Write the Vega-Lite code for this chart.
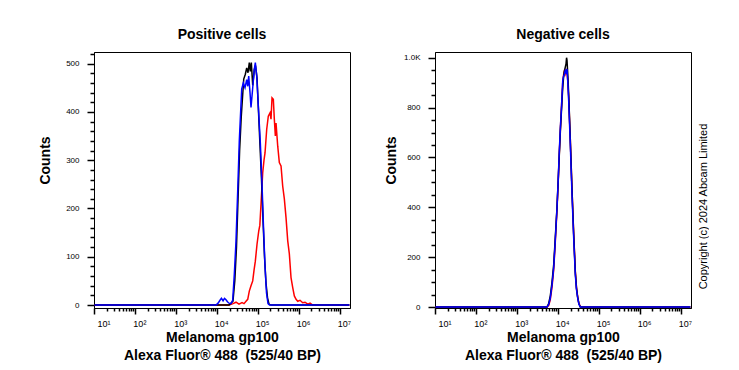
{
 "$schema": "https://vega.github.io/schema/vega-lite/v6.json",
 "background": "white",
 "padding": {"left": 37, "top": 27, "right": 0, "bottom": 0},
 "config": {
  "font": "Liberation Sans",
  "view": {"stroke": "black", "strokeWidth": 1},
  "title": {"fontSize": 14, "fontWeight": "bold", "font": "Liberation Sans", "color": "black", "offset": 10},
  "concat": {"spacing": 30}
 },
 "datasets": {
  "pos": [
   {"sample":"Anti-gp100","intensity":10,"count":0},{"sample":"Anti-gp100","intensity":19800,"count":0},{"sample":"Anti-gp100","intensity":24300,"count":3},{"sample":"Anti-gp100","intensity":28800,"count":6},{"sample":"Anti-gp100","intensity":34100,"count":2},{"sample":"Anti-gp100","intensity":40400,"count":5},{"sample":"Anti-gp100","intensity":45200,"count":3},{"sample":"Anti-gp100","intensity":50600,"count":8},{"sample":"Anti-gp100","intensity":55700,"count":12},{"sample":"Anti-gp100","intensity":60900,"count":29},{"sample":"Anti-gp100","intensity":67000,"count":40},{"sample":"Anti-gp100","intensity":73800,"count":50},{"sample":"Anti-gp100","intensity":79400,"count":72},{"sample":"Anti-gp100","intensity":85500,"count":91},{"sample":"Anti-gp100","intensity":94000,"count":126},{"sample":"Anti-gp100","intensity":103500,"count":153},{"sample":"Anti-gp100","intensity":110100,"count":165},{"sample":"Anti-gp100","intensity":117700,"count":209},{"sample":"Anti-gp100","intensity":129500,"count":274},{"sample":"Anti-gp100","intensity":139300,"count":300},{"sample":"Anti-gp100","intensity":147400,"count":315},{"sample":"Anti-gp100","intensity":162200,"count":364},{"sample":"Anti-gp100","intensity":177400,"count":391},{"sample":"Anti-gp100","intensity":195300,"count":398},{"sample":"Anti-gp100","intensity":206600,"count":385},{"sample":"Anti-gp100","intensity":218600,"count":429},{"sample":"Anti-gp100","intensity":235400,"count":426},{"sample":"Anti-gp100","intensity":249000,"count":385},{"sample":"Anti-gp100","intensity":263600,"count":350},{"sample":"Anti-gp100","intensity":274000,"count":377},{"sample":"Anti-gp100","intensity":301500,"count":329},{"sample":"Anti-gp100","intensity":329900,"count":295},{"sample":"Anti-gp100","intensity":363000,"count":288},{"sample":"Anti-gp100","intensity":399100,"count":246},{"sample":"Anti-gp100","intensity":437300,"count":220},{"sample":"Anti-gp100","intensity":480800,"count":181},{"sample":"Anti-gp100","intensity":529300,"count":133},{"sample":"Anti-gp100","intensity":579400,"count":106},{"sample":"Anti-gp100","intensity":636800,"count":57},{"sample":"Anti-gp100","intensity":701200,"count":36},{"sample":"Anti-gp100","intensity":767400,"count":19},{"sample":"Anti-gp100","intensity":845400,"count":12},{"sample":"Anti-gp100","intensity":929000,"count":8},{"sample":"Anti-gp100","intensity":1057000,"count":10},{"sample":"Anti-gp100","intensity":1230000,"count":5},{"sample":"Anti-gp100","intensity":1402000,"count":6},{"sample":"Anti-gp100","intensity":1633000,"count":2},{"sample":"Anti-gp100","intensity":1858000,"count":4},{"sample":"Anti-gp100","intensity":2163000,"count":0},{"sample":"Anti-gp100","intensity":17000000,"count":0},
   {"sample":"Unlabelled control","intensity":10,"count":0},{"sample":"Unlabelled control","intensity":19400,"count":0},{"sample":"Unlabelled control","intensity":21700,"count":4},{"sample":"Unlabelled control","intensity":24300,"count":8},{"sample":"Unlabelled control","intensity":26900,"count":50},{"sample":"Unlabelled control","intensity":29600,"count":120},{"sample":"Unlabelled control","intensity":32300,"count":220},{"sample":"Unlabelled control","intensity":35300,"count":320},{"sample":"Unlabelled control","intensity":38700,"count":390},{"sample":"Unlabelled control","intensity":44500,"count":468},{"sample":"Unlabelled control","intensity":48700,"count":478},{"sample":"Unlabelled control","intensity":52600,"count":491},{"sample":"Unlabelled control","intensity":56600,"count":481},{"sample":"Unlabelled control","intensity":60900,"count":502},{"sample":"Unlabelled control","intensity":64500,"count":484},{"sample":"Unlabelled control","intensity":68200,"count":502},{"sample":"Unlabelled control","intensity":73800,"count":455},{"sample":"Unlabelled control","intensity":80700,"count":488},{"sample":"Unlabelled control","intensity":86300,"count":496},{"sample":"Unlabelled control","intensity":94000,"count":470},{"sample":"Unlabelled control","intensity":102300,"count":400},{"sample":"Unlabelled control","intensity":111200,"count":330},{"sample":"Unlabelled control","intensity":121000,"count":260},{"sample":"Unlabelled control","intensity":131800,"count":175},{"sample":"Unlabelled control","intensity":143300,"count":100},{"sample":"Unlabelled control","intensity":156000,"count":45},{"sample":"Unlabelled control","intensity":169800,"count":15},{"sample":"Unlabelled control","intensity":184600,"count":2},{"sample":"Unlabelled control","intensity":206600,"count":0},{"sample":"Unlabelled control","intensity":17000000,"count":0},
   {"sample":"Isotype control","intensity":10,"count":0},{"sample":"Isotype control","intensity":9350,"count":0},{"sample":"Isotype control","intensity":10500,"count":4},{"sample":"Isotype control","intensity":11700,"count":10},{"sample":"Isotype control","intensity":12700,"count":14},{"sample":"Isotype control","intensity":13900,"count":9},{"sample":"Isotype control","intensity":15100,"count":14},{"sample":"Isotype control","intensity":16400,"count":11},{"sample":"Isotype control","intensity":17800,"count":7},{"sample":"Isotype control","intensity":19400,"count":4},{"sample":"Isotype control","intensity":21700,"count":3},{"sample":"Isotype control","intensity":23900,"count":10},{"sample":"Isotype control","intensity":26200,"count":64},{"sample":"Isotype control","intensity":28800,"count":132},{"sample":"Isotype control","intensity":31700,"count":236},{"sample":"Isotype control","intensity":34700,"count":340},{"sample":"Isotype control","intensity":39700,"count":447},{"sample":"Isotype control","intensity":43500,"count":460},{"sample":"Isotype control","intensity":47800,"count":450},{"sample":"Isotype control","intensity":52600,"count":467},{"sample":"Isotype control","intensity":55700,"count":453},{"sample":"Isotype control","intensity":58900,"count":474},{"sample":"Isotype control","intensity":63400,"count":440},{"sample":"Isotype control","intensity":67000,"count":409},{"sample":"Isotype control","intensity":73800,"count":450},{"sample":"Isotype control","intensity":80700,"count":488},{"sample":"Isotype control","intensity":85500,"count":502},{"sample":"Isotype control","intensity":92500,"count":474},{"sample":"Isotype control","intensity":101200,"count":412},{"sample":"Isotype control","intensity":113200,"count":336},{"sample":"Isotype control","intensity":124500,"count":250},{"sample":"Isotype control","intensity":135500,"count":160},{"sample":"Isotype control","intensity":147400,"count":80},{"sample":"Isotype control","intensity":160300,"count":25},{"sample":"Isotype control","intensity":174600,"count":3},{"sample":"Isotype control","intensity":190000,"count":0},{"sample":"Isotype control","intensity":17000000,"count":0}
  ],
  "neg": [
   {"sample":"Anti-gp100","intensity":10,"count":0},{"sample":"Anti-gp100","intensity":5320,"count":0},{"sample":"Anti-gp100","intensity":5850,"count":6},{"sample":"Anti-gp100","intensity":6410,"count":30},{"sample":"Anti-gp100","intensity":7060,"count":80},{"sample":"Anti-gp100","intensity":7760,"count":150},{"sample":"Anti-gp100","intensity":8500,"count":262},{"sample":"Anti-gp100","intensity":9350,"count":390},{"sample":"Anti-gp100","intensity":10000,"count":500},{"sample":"Anti-gp100","intensity":10640,"count":615},{"sample":"Anti-gp100","intensity":11300,"count":715},{"sample":"Anti-gp100","intensity":11910,"count":790},{"sample":"Anti-gp100","intensity":12890,"count":900},{"sample":"Anti-gp100","intensity":13500,"count":930},{"sample":"Anti-gp100","intensity":14100,"count":945},{"sample":"Anti-gp100","intensity":14800,"count":935},{"sample":"Anti-gp100","intensity":15520,"count":950},{"sample":"Anti-gp100","intensity":16410,"count":940},{"sample":"Anti-gp100","intensity":17200,"count":905},{"sample":"Anti-gp100","intensity":18060,"count":840},{"sample":"Anti-gp100","intensity":19770,"count":670},{"sample":"Anti-gp100","intensity":21740,"count":470},{"sample":"Anti-gp100","intensity":23910,"count":295},{"sample":"Anti-gp100","intensity":26180,"count":145},{"sample":"Anti-gp100","intensity":28000,"count":78},{"sample":"Anti-gp100","intensity":29980,"count":40},{"sample":"Anti-gp100","intensity":32000,"count":15},{"sample":"Anti-gp100","intensity":34700,"count":2},{"sample":"Anti-gp100","intensity":37000,"count":0},{"sample":"Anti-gp100","intensity":17000000,"count":0},
   {"sample":"Unlabelled control","intensity":10,"count":0},{"sample":"Unlabelled control","intensity":5320,"count":0},{"sample":"Unlabelled control","intensity":5850,"count":14},{"sample":"Unlabelled control","intensity":6410,"count":45},{"sample":"Unlabelled control","intensity":7060,"count":100},{"sample":"Unlabelled control","intensity":7760,"count":170},{"sample":"Unlabelled control","intensity":8500,"count":280},{"sample":"Unlabelled control","intensity":9350,"count":400},{"sample":"Unlabelled control","intensity":10000,"count":505},{"sample":"Unlabelled control","intensity":10640,"count":610},{"sample":"Unlabelled control","intensity":11300,"count":705},{"sample":"Unlabelled control","intensity":11910,"count":775},{"sample":"Unlabelled control","intensity":12890,"count":880},{"sample":"Unlabelled control","intensity":13500,"count":920},{"sample":"Unlabelled control","intensity":14100,"count":945},{"sample":"Unlabelled control","intensity":14800,"count":960},{"sample":"Unlabelled control","intensity":15520,"count":975},{"sample":"Unlabelled control","intensity":16000,"count":1000},{"sample":"Unlabelled control","intensity":16410,"count":990},{"sample":"Unlabelled control","intensity":17200,"count":930},{"sample":"Unlabelled control","intensity":18060,"count":850},{"sample":"Unlabelled control","intensity":19770,"count":670},{"sample":"Unlabelled control","intensity":21740,"count":470},{"sample":"Unlabelled control","intensity":23910,"count":290},{"sample":"Unlabelled control","intensity":26180,"count":140},{"sample":"Unlabelled control","intensity":28000,"count":75},{"sample":"Unlabelled control","intensity":29980,"count":38},{"sample":"Unlabelled control","intensity":32000,"count":14},{"sample":"Unlabelled control","intensity":34700,"count":0},{"sample":"Unlabelled control","intensity":17000000,"count":0},
   {"sample":"Isotype control","intensity":10,"count":0},{"sample":"Isotype control","intensity":5320,"count":0},{"sample":"Isotype control","intensity":5850,"count":10},{"sample":"Isotype control","intensity":6410,"count":36},{"sample":"Isotype control","intensity":7060,"count":90},{"sample":"Isotype control","intensity":7760,"count":157},{"sample":"Isotype control","intensity":8500,"count":270},{"sample":"Isotype control","intensity":9350,"count":398},{"sample":"Isotype control","intensity":10000,"count":510},{"sample":"Isotype control","intensity":10640,"count":625},{"sample":"Isotype control","intensity":11300,"count":720},{"sample":"Isotype control","intensity":11910,"count":786},{"sample":"Isotype control","intensity":12890,"count":906},{"sample":"Isotype control","intensity":13500,"count":925},{"sample":"Isotype control","intensity":14100,"count":933},{"sample":"Isotype control","intensity":14800,"count":948},{"sample":"Isotype control","intensity":15520,"count":940},{"sample":"Isotype control","intensity":16410,"count":955},{"sample":"Isotype control","intensity":17200,"count":900},{"sample":"Isotype control","intensity":18060,"count":826},{"sample":"Isotype control","intensity":19770,"count":652},{"sample":"Isotype control","intensity":21740,"count":451},{"sample":"Isotype control","intensity":23910,"count":277},{"sample":"Isotype control","intensity":26180,"count":130},{"sample":"Isotype control","intensity":28000,"count":70},{"sample":"Isotype control","intensity":29980,"count":36},{"sample":"Isotype control","intensity":32000,"count":12},{"sample":"Isotype control","intensity":34700,"count":0},{"sample":"Isotype control","intensity":17000000,"count":0}
  ]
 },
 "hconcat": [
  {
   "title": "Positive cells",
   "width": 256, "height": 256,
   "data": {"name": "pos"},
   "layer": [
    {
     "encoding": {
      "x": {"field": "intensity", "type": "quantitative",
       "scale": {"type": "log", "domain": [9.75, 17600000], "nice": false},
       "axis": {
        "title": ["Melanoma gp100", "Alexa Fluor® 488 \u00a0(525/40 BP)"],
        "orient": "bottom", "grid": false, "tickColor": "black", "tickWidth": 1.5, "tickSize": 6, "domainColor": "black", "labelColor": "black", "titleColor": "black",
        "values": [10,100,1000,10000,100000,1000000,10000000],
        "labelExpr": "'10' + ['⁰','¹','²','³','⁴','⁵','⁶','⁷'][round(log(datum.value)/LN10)]",
        "labelFlush": false, "labelFontSize": 9, "labelFont": "Liberation Sans",
        "labelOffset": {"condition": {"test": "datum.value < 11", "value": 9}, "value": 4},
        "labelPadding": 5,
        "titleFont": "Liberation Sans", "titleFontSize": 14, "titleFontWeight": "bold", "titleBaseline": "alphabetic", "titleY": 33, "titleLineHeight": 18, "titleAlign": "center", "titleX": 128
       }},
      "y": {"field": "count", "type": "quantitative",
       "scale": {"domain": [-6, 524], "nice": false, "zero": false},
       "axis": {
        "title": "Counts", "orient": "left", "grid": false, "tickColor": "black", "tickWidth": 1.5, "tickSize": 7, "domainColor": "black", "labelColor": "black", "titleColor": "black",
        "values": [0,100,200,300,400,500],
        "labelFontSize": 8, "labelFont": "Liberation Sans", "labelPadding": 8,
        "titleFont": "Liberation Sans", "titleFontSize": 14, "titleFontWeight": "bold", "titleX": -49, "titleY": 108, "titleAngle": 270, "titleAlign": "center", "titleBaseline": "middle"
       }},
      "color": {"field": "sample", "type": "nominal",
       "scale": {"domain": ["Anti-gp100", "Unlabelled control", "Isotype control"], "range": ["#ff0000", "#000000", "#0000ff"]},
       "legend": null}
     },
     "layer": [
      {"transform": [{"filter": "datum.sample === 'Anti-gp100'"}], "mark": {"type": "line", "strokeWidth": 1.5}},
      {"transform": [{"filter": "datum.sample === 'Unlabelled control'"}], "mark": {"type": "line", "strokeWidth": 1.5}},
      {"transform": [{"filter": "datum.sample === 'Isotype control'"}], "mark": {"type": "line", "strokeWidth": 1.5}}
     ]
    },
    {
     "mark": {"type": "line", "strokeOpacity": 0},
     "encoding": {
      "x": {"field": "intensity", "type": "quantitative",
       "axis": {"orient": "bottom", "grid": false, "title": null, "labels": false, "domain": false, "tickColor": "black", "tickWidth": 1.5, "tickSize": 3,
        "values": [20,30,40,50,60,70,80,90,200,300,400,500,600,700,800,900,2000,3000,4000,5000,6000,7000,8000,9000,20000,30000,40000,50000,60000,70000,80000,90000,200000,300000,400000,500000,600000,700000,800000,900000,2000000,3000000,4000000,5000000,6000000,7000000,8000000,9000000]}},
      "y": {"field": "count", "type": "quantitative",
       "axis": {"orient": "left", "grid": false, "title": null, "labels": false, "domain": false, "tickColor": "black", "tickWidth": 1.5, "tickSize": 4,
        "values": [20,40,60,80,120,140,160,180,220,240,260,280,320,340,360,380,420,440,460,480,520]}}
     }
    }
   ],
   "resolve": {"axis": {"x": "independent", "y": "independent"}}
  },
  {
   "title": "Negative cells",
   "width": 256, "height": 256,
   "data": {"name": "neg"},
   "layer": [
    {
     "encoding": {
      "x": {"field": "intensity", "type": "quantitative",
       "scale": {"type": "log", "domain": [9.75, 17600000], "nice": false},
       "axis": {
        "title": ["Melanoma gp100", "Alexa Fluor® 488 \u00a0(525/40 BP)"],
        "orient": "bottom", "grid": false, "tickColor": "black", "tickWidth": 1.5, "tickSize": 6, "domainColor": "black", "labelColor": "black", "titleColor": "black",
        "values": [10,100,1000,10000,100000,1000000,10000000],
        "labelExpr": "'10' + ['⁰','¹','²','³','⁴','⁵','⁶','⁷'][round(log(datum.value)/LN10)]",
        "labelFlush": false, "labelFontSize": 9, "labelFont": "Liberation Sans",
        "labelOffset": {"condition": {"test": "datum.value < 11", "value": 9}, "value": 4},
        "labelPadding": 5,
        "titleFont": "Liberation Sans", "titleFontSize": 14, "titleFontWeight": "bold", "titleBaseline": "alphabetic", "titleY": 33, "titleLineHeight": 18, "titleAlign": "center", "titleX": 128
       }},
      "y": {"field": "count", "type": "quantitative",
       "scale": {"domain": [-4, 1023], "nice": false, "zero": false},
       "axis": {
        "title": "Counts", "orient": "left", "grid": false, "tickColor": "black", "tickWidth": 1.5, "tickSize": 7, "domainColor": "black", "labelColor": "black", "titleColor": "black",
        "values": [0,200,400,600,800,1000],
        "labelExpr": "datum.value === 1000 ? '1.0K' : datum.label",
        "labelFontSize": 8, "labelFont": "Liberation Sans", "labelPadding": 8,
        "titleFont": "Liberation Sans", "titleFontSize": 14, "titleFontWeight": "bold", "titleX": -44, "titleY": 108, "titleAngle": 270, "titleAlign": "center", "titleBaseline": "middle"
       }},
      "color": {"field": "sample", "type": "nominal",
       "scale": {"domain": ["Anti-gp100", "Unlabelled control", "Isotype control"], "range": ["#ff0000", "#000000", "#0000ff"]},
       "legend": null}
     },
     "layer": [
      {"transform": [{"filter": "datum.sample === 'Anti-gp100'"}], "mark": {"type": "line", "strokeWidth": 1.5}},
      {"transform": [{"filter": "datum.sample === 'Unlabelled control'"}], "mark": {"type": "line", "strokeWidth": 1.5}},
      {"transform": [{"filter": "datum.sample === 'Isotype control'"}], "mark": {"type": "line", "strokeWidth": 1.5}}
     ]
    },
    {
     "mark": {"type": "line", "strokeOpacity": 0},
     "encoding": {
      "x": {"field": "intensity", "type": "quantitative",
       "axis": {"orient": "bottom", "grid": false, "title": null, "labels": false, "domain": false, "tickColor": "black", "tickWidth": 1.5, "tickSize": 3,
        "values": [20,30,40,50,60,70,80,90,200,300,400,500,600,700,800,900,2000,3000,4000,5000,6000,7000,8000,9000,20000,30000,40000,50000,60000,70000,80000,90000,200000,300000,400000,500000,600000,700000,800000,900000,2000000,3000000,4000000,5000000,6000000,7000000,8000000,9000000]}},
      "y": {"field": "count", "type": "quantitative",
       "axis": {"orient": "left", "grid": false, "title": null, "labels": false, "domain": false, "tickColor": "black", "tickWidth": 1.5, "tickSize": 4,
        "values": [50,100,150,250,300,350,450,500,550,650,700,750,850,900,950]}}
     }
    },
    {
     "mark": {"type": "line", "strokeOpacity": 0},
     "encoding": {
      "x": {"field": "intensity", "type": "quantitative", "axis": null},
      "y": {"field": "count", "type": "quantitative",
       "axis": {"orient": "right", "grid": false, "title": "Copyright (c) 2024 Abcam Limited", "labels": false, "ticks": false, "domain": false, "titleColor": "black",
        "titleFont": "Liberation Sans", "titleFontSize": 11, "titleFontWeight": "normal", "titleX": 12, "titleY": 154, "titleAngle": 270, "titleAlign": "center", "titleBaseline": "middle"}}
     }
    }
   ],
   "resolve": {"axis": {"x": "independent", "y": "independent"}}
  }
 ]
}
